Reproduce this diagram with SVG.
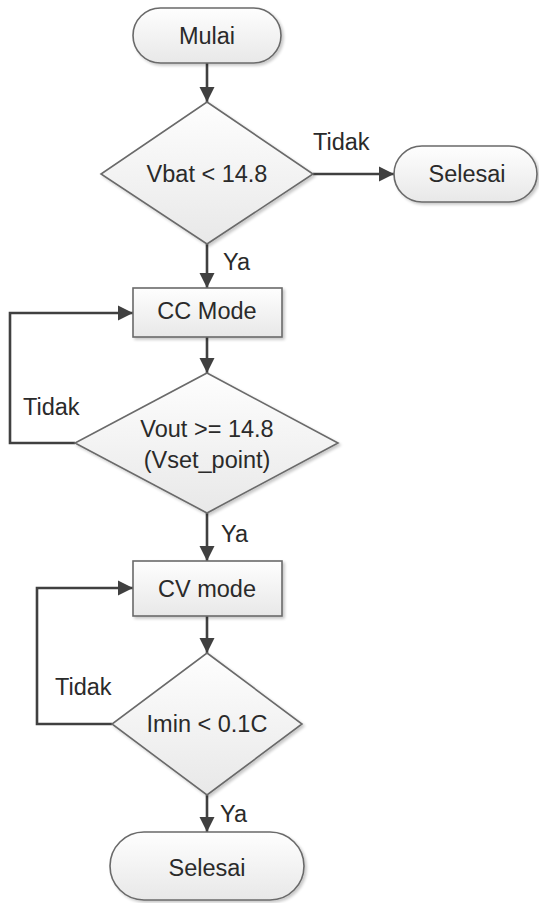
<svg xmlns="http://www.w3.org/2000/svg" width="539" height="903" viewBox="0 0 539 903">
  <defs>
    <linearGradient id="shade" x1="0" y1="0" x2="0" y2="1">
      <stop offset="0" stop-color="#fefefe"/>
      <stop offset="1" stop-color="#e8e8e8"/>
    </linearGradient>
    <filter id="drop" x="-10%" y="-10%" width="125%" height="130%">
      <feGaussianBlur in="SourceAlpha" stdDeviation="1.5"/>
      <feOffset dx="1.5" dy="2" result="b"/>
      <feComponentTransfer><feFuncA type="linear" slope="0.22"/></feComponentTransfer>
      <feMerge><feMergeNode/><feMergeNode in="SourceGraphic"/></feMerge>
    </filter>
    <marker id="arrow" markerUnits="userSpaceOnUse" markerWidth="16" markerHeight="16" refX="15" refY="8" orient="auto">
      <path d="M0,0.5 L15,8 L0,15.5 z" fill="#404040"/>
    </marker>
  </defs>
  <style>
    .shape { fill: url(#shade); stroke: #6a6a6a; stroke-width: 1.6; filter: url(#drop); }
    .label { font-family: "Liberation Sans", Arial, sans-serif; font-size: 23.5px; fill: #2a2a2a; text-anchor: middle; }
    .edge-label { font-family: "Liberation Sans", Arial, sans-serif; font-size: 23.5px; fill: #2a2a2a; }
    .wire { fill: none; stroke: #404040; stroke-width: 2.6; }
    .wire.arrow { marker-end: url(#arrow); }
  </style>

  <g id="connectors">
    <path class="wire arrow" d="M207,63 V102"/>
    <path class="wire arrow" d="M313,174 H394"/>
    <path class="wire arrow" d="M207,244 V288"/>
    <path class="wire arrow" d="M207,337 V373"/>
    <path class="wire arrow" d="M75,443 H10 V313 H133"/>
    <path class="wire arrow" d="M207,513 V561"/>
    <path class="wire arrow" d="M207,616 V653"/>
    <path class="wire arrow" d="M112,724 H37 V588 H133"/>
    <path class="wire arrow" d="M207,795 V832"/>
    <text class="edge-label" x="313" y="150">Tidak</text>
    <text class="edge-label" x="223" y="270">Ya</text>
    <text class="edge-label" x="23" y="415">Tidak</text>
    <text class="edge-label" x="221" y="542">Ya</text>
    <text class="edge-label" x="55" y="695">Tidak</text>
    <text class="edge-label" x="220" y="822">Ya</text>
  </g>

  <g id="start">
    <rect class="shape" x="133" y="8" width="148" height="55" rx="27.5"/>
    <text class="label" x="207" y="44">Mulai</text>
  </g>

  <g id="check-vbat">
    <polygon class="shape" points="207,102 313,174 207,244 101,174"/>
    <text class="label" x="207" y="182">Vbat &lt; 14.8</text>
  </g>

  <g id="end-early">
    <rect class="shape" x="394" y="146" width="143" height="56" rx="28"/>
    <text class="label" x="467" y="182">Selesai</text>
  </g>

  <g id="cc-mode">
    <rect class="shape" x="133" y="288" width="149" height="49"/>
    <text class="label" x="207" y="319">CC Mode</text>
  </g>

  <g id="check-vout">
    <polygon class="shape" points="207,373 338,443 207,513 75,443"/>
    <text class="label" x="207" y="437">Vout &gt;= 14.8</text>
    <text class="label" x="207" y="468">(Vset_point)</text>
  </g>

  <g id="cv-mode">
    <rect class="shape" x="133" y="561" width="149" height="55"/>
    <text class="label" x="207" y="597">CV mode</text>
  </g>

  <g id="check-imin">
    <polygon class="shape" points="207,653 302,724 207,795 112,724"/>
    <text class="label" x="207" y="732">Imin &lt; 0.1C</text>
  </g>

  <g id="end">
    <rect class="shape" x="110" y="832" width="194" height="68" rx="34"/>
    <text class="label" x="207" y="876">Selesai</text>
  </g>
</svg>
